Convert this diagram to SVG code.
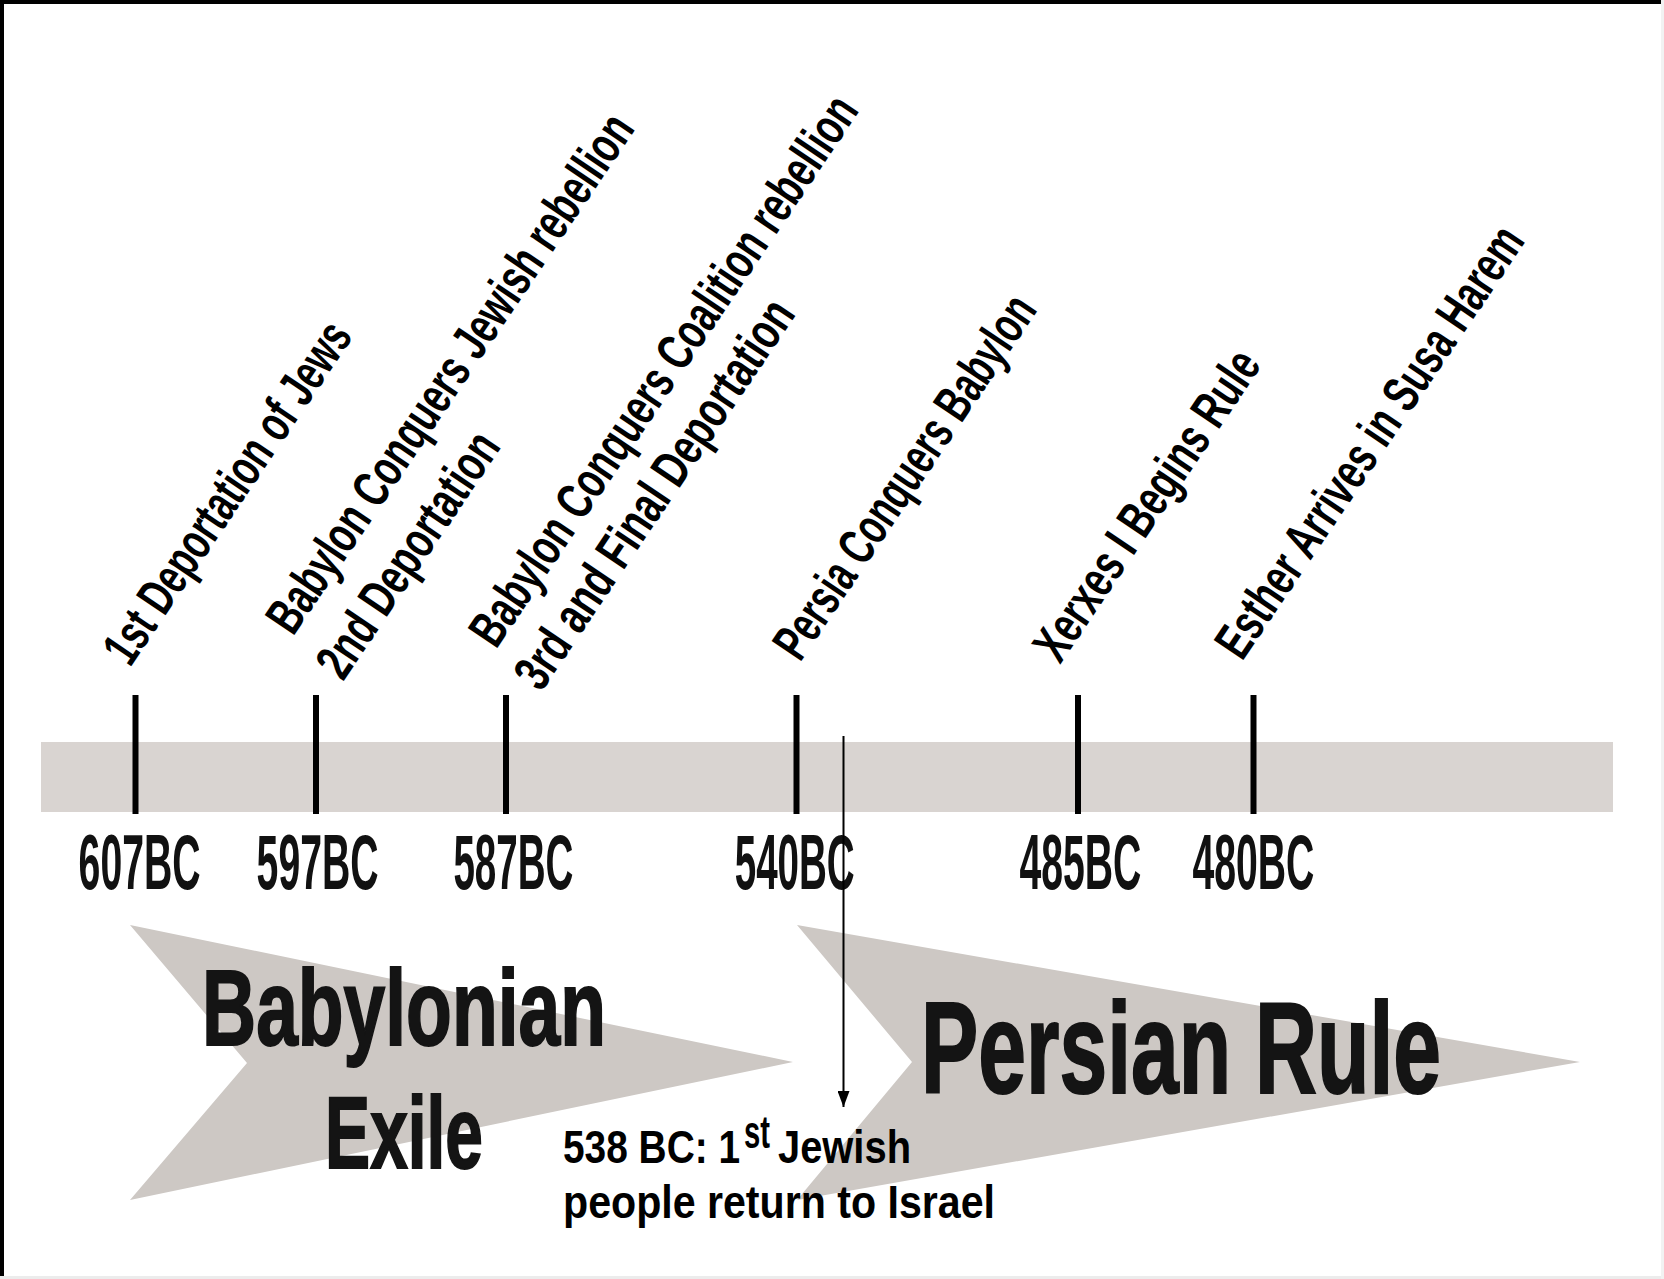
<svg xmlns="http://www.w3.org/2000/svg" width="1664" height="1279" viewBox="0 0 1664 1279">
  <defs>
    <style>
      .tick { stroke: #000; stroke-width: 6; }
      .year { font-family: "Liberation Sans", Arial, sans-serif; font-weight: bold; font-size: 77px; fill: #111; }
      .lbl { font-family: "Liberation Sans", Arial, sans-serif; font-weight: bold; font-size: 52px; fill: #000; }
      .period { font-family: "Liberation Sans", Arial, sans-serif; font-weight: bold; fill: #141414; stroke: #141414; stroke-width: 2; }
      .chev { fill: #cdc8c4; }
      .note { font-family: "Liberation Sans", Arial, sans-serif; font-weight: bold; font-size: 46px; fill: #000; }
      .conn { stroke: #000; stroke-width: 2; fill: none; }
    </style>
    <marker id="arrowhead" markerWidth="16" markerHeight="12" refX="16" refY="6" orient="auto" markerUnits="userSpaceOnUse" viewBox="0 0 16 12">
      <path d="M0,0 L16,6 L0,12 Z" fill="#000"/>
    </marker>
  </defs>

  <rect x="0" y="0" width="1664" height="1279" fill="#ffffff"/>

  <g id="frame">
    <rect x="0" y="0" width="1664" height="4" fill="#000"/>
    <rect x="0" y="0" width="4" height="1279" fill="#000"/>
    <rect x="0" y="1276" width="1664" height="3" fill="#ececec"/>
    <rect x="1661" y="0" width="3" height="1279" fill="#f2f2f2"/>
  </g>

  <g id="timeline-bar">
    <rect x="41" y="742" width="1572" height="70" fill="#d9d4d1"/>
  </g>

  <g id="period-babylonian">
    <polygon class="chev" points="130,925 793,1062 130,1200 247,1063"/>
    <text class="period" x="202" y="1045" font-size="107" textLength="404" lengthAdjust="spacingAndGlyphs">Babylonian</text>
    <text class="period" x="325" y="1168" font-size="102" textLength="158" lengthAdjust="spacingAndGlyphs">Exile</text>
  </g>

  <g id="period-persian">
    <polygon class="chev" points="797,925 1580,1062 797,1200 912,1062"/>
    <text class="period" x="921" y="1093" font-size="130" textLength="520" lengthAdjust="spacingAndGlyphs">Persian Rule</text>
  </g>

  <g id="event-607">
    <line class="tick" x1="135.5" y1="695" x2="135.5" y2="814"/>
    <text class="year" x="78.6" y="889" textLength="122" lengthAdjust="spacingAndGlyphs">607BC</text>
    <text class="lbl" transform="translate(130,668) rotate(-56)" textLength="400" lengthAdjust="spacingAndGlyphs">1st Deportation of Jews</text>
  </g>

  <g id="event-597">
    <line class="tick" x1="316" y1="695" x2="316" y2="814"/>
    <text class="year" x="256.6" y="889" textLength="122" lengthAdjust="spacingAndGlyphs">597BC</text>
    <text class="lbl" transform="translate(293,637) rotate(-56)" textLength="613" lengthAdjust="spacingAndGlyphs">Babylon Conquers Jewish rebellion</text>
    <text class="lbl" transform="translate(343,682) rotate(-56)" textLength="284" lengthAdjust="spacingAndGlyphs">2nd Deportation</text>
  </g>

  <g id="event-587">
    <line class="tick" x1="506" y1="695" x2="506" y2="814"/>
    <text class="year" x="453.4" y="889" textLength="120" lengthAdjust="spacingAndGlyphs">587BC</text>
    <text class="lbl" transform="translate(496,650) rotate(-56)" textLength="651" lengthAdjust="spacingAndGlyphs">Babylon Conquers Coalition rebellion</text>
    <text class="lbl" transform="translate(541,693) rotate(-56)" textLength="457" lengthAdjust="spacingAndGlyphs">3rd and Final Deportation</text>
  </g>

  <g id="event-540">
    <line class="tick" x1="796.5" y1="695" x2="796.5" y2="814"/>
    <text class="year" x="734.7" y="889" textLength="120" lengthAdjust="spacingAndGlyphs">540BC</text>
    <text class="lbl" transform="translate(800,663) rotate(-56)" textLength="426" lengthAdjust="spacingAndGlyphs">Persia Conquers Babylon</text>
  </g>

  <g id="event-485">
    <line class="tick" x1="1078" y1="695" x2="1078" y2="814"/>
    <text class="year" x="1019.4" y="889" textLength="122" lengthAdjust="spacingAndGlyphs">485BC</text>
    <text class="lbl" transform="translate(1060,665) rotate(-56)" textLength="362" lengthAdjust="spacingAndGlyphs">Xerxes I Begins Rule</text>
  </g>

  <g id="event-480">
    <line class="tick" x1="1253.5" y1="695" x2="1253.5" y2="814"/>
    <text class="year" x="1192.4" y="889" textLength="122" lengthAdjust="spacingAndGlyphs">480BC</text>
    <text class="lbl" transform="translate(1242,662) rotate(-56)" textLength="508" lengthAdjust="spacingAndGlyphs">Esther Arrives in Susa Harem</text>
  </g>

  <g id="note-538">
    <text class="note" x="563" y="1163" textLength="177" lengthAdjust="spacingAndGlyphs">538 BC: 1</text>
    <text class="note" x="744" y="1148" font-size="28" textLength="26" lengthAdjust="spacingAndGlyphs">st</text>
    <text class="note" x="778" y="1163" textLength="133" lengthAdjust="spacingAndGlyphs">Jewish</text>
    <text class="note" x="563" y="1218" textLength="432" lengthAdjust="spacingAndGlyphs">people return to Israel</text>
  </g>

  <g id="connectors">
    <line class="conn" x1="843.5" y1="736" x2="843.5" y2="1107" marker-end="url(#arrowhead)"/>
  </g>
</svg>
